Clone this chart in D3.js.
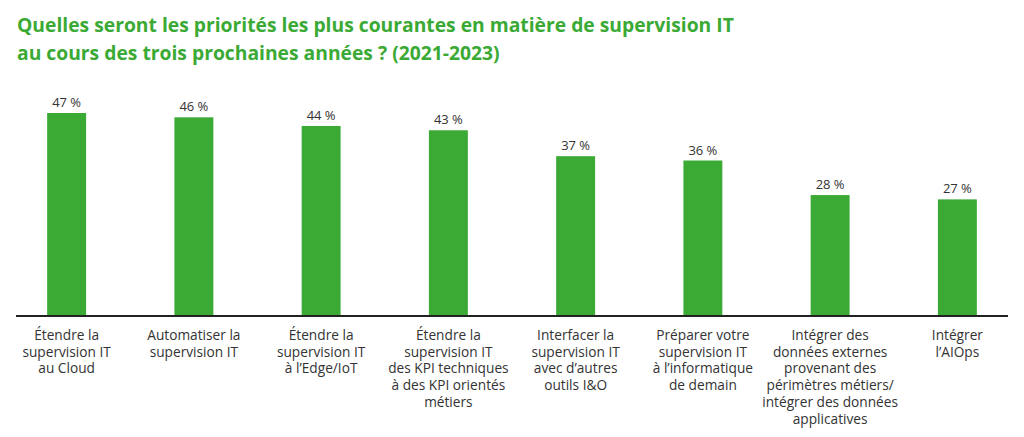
<!DOCTYPE html>
<html><head><meta charset="utf-8">
<script src="https://cdn.jsdelivr.net/npm/d3@7"></script>
<style>body{margin:0;background:#fff}svg{display:block}</style>
</head><body>
<svg id="c" width="1024" height="437"></svg>
<script>
const titleLines = ["Quelles seront les priorités les plus courantes en matière de supervision IT",
                    "au cours des trois prochaines années\u00A0? (2021-2023)"];
const categories = [
  ["Étendre la","supervision IT","au Cloud"],
  ["Automatiser la","supervision IT"],
  ["Étendre la","supervision IT","à l’Edge/IoT"],
  ["Étendre la","supervision IT","des KPI techniques","à des KPI orientés","métiers"],
  ["Interfacer la","supervision IT","avec d’autres","outils I&O"],
  ["Préparer votre","supervision IT","à l’informatique","de demain"],
  ["Intégrer des","données externes","provenant des","périmètres métiers/","intégrer des données","applicatives"],
  ["Intégrer","l’AIOps"]
];
const values = [47, 46, 44, 43, 37, 36, 28, 27];

const green = "#3aaa35";
const svg = d3.select("#c");
const font = "'Open Sans', sans-serif";

svg.append("g").selectAll("text").data(titleLines).join("text")
  .attr("x", 17).attr("y", (d,i)=>32 + i*28)
  .attr("fill", green).attr("font-family", font).attr("font-weight", 700)
  .attr("font-size", 19.3).text(d=>d);

const idx = d3.range(values.length);
const x = d3.scaleBand().domain(idx).range([3, 1021]).paddingInner(0.694).paddingOuter(0.347);
const y = d3.scaleLinear().domain([0, 47]).range([316, 113]);

svg.append("g").selectAll("rect").data(values).join("rect")
  .attr("x", (d,i)=>x(i)).attr("width", x.bandwidth())
  .attr("y", d=>y(d)).attr("height", d=>y(0)-y(d)).attr("fill", green);

svg.append("g").selectAll("text").data(values).join("text")
  .attr("x", (d,i)=>x(i)+x.bandwidth()/2).attr("y", d=>y(d)-6)
  .attr("text-anchor","middle").attr("font-family", font).attr("font-size", 13)
  .attr("fill","#333").text(d=>d+"\u00A0%");

const axis = d3.axisBottom(x).tickSize(0).tickFormat("");
const ag = svg.append("g").attr("transform", `translate(0,${y(0)})`).call(axis);
ag.select(".domain").remove();
ag.append("line").attr("x1",16).attr("x2",1008).attr("stroke","#222").attr("stroke-width",2);

const lg = svg.append("g");
categories.forEach((lines,i)=>{
  const t = lg.append("text").attr("text-anchor","middle").attr("font-family",font)
    .attr("font-size",13.7).attr("fill","#333");
  lines.forEach((l,j)=>{
    t.append("tspan").attr("x", x(i)+x.bandwidth()/2).attr("y", 340 + j*16.7).text(l);
  });
});
</script>
</body></html>
